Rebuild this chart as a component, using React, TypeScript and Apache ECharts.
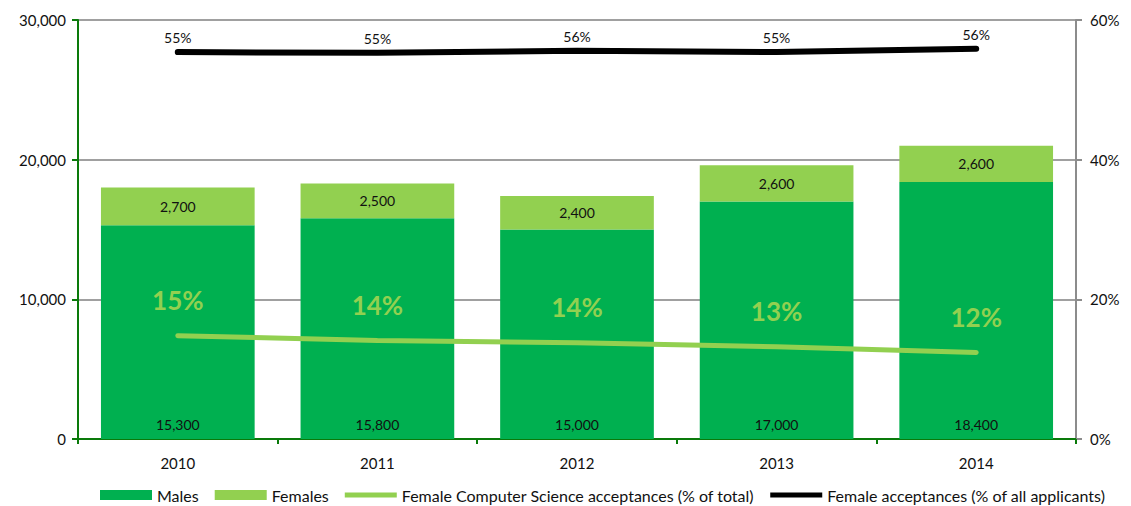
import React, { useEffect, useRef } from "react";
import * as echarts from "echarts";

const years = ["2010", "2011", "2012", "2013", "2014"];
const males = [15300, 15800, 15000, 17000, 18400];
const females = [2700, 2500, 2400, 2600, 2600];
const csShare = [14.8, 14.1, 13.8, 13.2, 12.4];
const allShare = [55.4, 55.3, 55.6, 55.4, 55.9];

const FONT = "Lato, 'Open Sans', sans-serif";
const DARK = "#00b050";
const LIGHT = "#92d050";
const AXIS_GREEN = "#0a7a0a";

export default function App() {
  const ref = useRef<HTMLDivElement>(null);
  useEffect(() => {
    document.body.style.margin = "0";
    const chart = echarts.init(ref.current!, null, { renderer: "svg" });
    const lineIcon = "path://M0,0 L52,0 L52,5 L0,5 Z";
    chart.setOption({
      animation: false,
      textStyle: { fontFamily: FONT },
      grid: {
        left: 78,
        right: 55,
        top: 20,
        bottom: 67,
        show: true,
        borderColor: AXIS_GREEN,
        borderWidth: 2,
        backgroundColor: "transparent",
      },
      legend: {
        left: 100,
        bottom: 3,
        padding: 0,
        itemWidth: 52,
        itemHeight: 10,
        itemGap: 16,
        textStyle: { fontFamily: FONT, fontSize: 16, color: "#111" },
        data: [
          { name: "Males", icon: "rect" },
          { name: "Females", icon: "rect" },
          {
            name: "Female Computer Science acceptances (% of total)",
            icon: lineIcon,
            itemStyle: { color: LIGHT },
          },
          {
            name: "Female acceptances (% of all applicants)",
            icon: lineIcon,
            itemStyle: { color: "#000" },
          },
        ],
      },
      xAxis: {
        type: "category",
        data: years,
        axisLine: { lineStyle: { color: AXIS_GREEN, width: 2 } },
        axisTick: { show: true, length: 5, lineStyle: { color: AXIS_GREEN, width: 2 } },
        axisLabel: { fontSize: 15, color: "#111", margin: 16, fontFamily: FONT },
      },
      yAxis: [
        {
          type: "value",
          min: 0,
          max: 30000,
          interval: 10000,
          axisLine: { show: true, lineStyle: { color: AXIS_GREEN, width: 2 } },
          axisTick: { show: true, length: 6, lineStyle: { color: AXIS_GREEN, width: 2 } },
          axisLabel: {
            fontSize: 15,
            color: "#111",
            margin: 12,
            fontFamily: FONT,
            formatter: (v: number) => v.toLocaleString("en-US"),
          },
          splitLine: { show: true, lineStyle: { color: "#a0a0a0", width: 2 } },
        },
        {
          type: "value",
          min: 0,
          max: 60,
          interval: 20,
          position: "right",
          axisLine: { show: true, lineStyle: { color: "#8c8c8c", width: 2 } },
          axisTick: { show: true, length: 6, lineStyle: { color: "#8c8c8c", width: 2 } },
          axisLabel: {
            fontSize: 15,
            color: "#111",
            margin: 14,
            fontFamily: FONT,
            formatter: (v: number) => v + "%",
          },
          splitLine: { show: false },
        },
      ],
      series: [
        {
          name: "Males",
          type: "bar",
          stack: "total",
          data: males,
          barWidth: "77%",
          itemStyle: { color: DARK },
          label: {
            show: true,
            position: "insideBottom",
            distance: 8,
            fontSize: 14,
            color: "#111",
            fontFamily: FONT,
            formatter: (p: any) => p.value.toLocaleString("en-US"),
          },
        },
        {
          name: "Females",
          type: "bar",
          stack: "total",
          data: females,
          itemStyle: { color: LIGHT },
          label: {
            show: true,
            position: "inside",
            fontSize: 14,
            color: "#111",
            fontFamily: FONT,
            formatter: (p: any) => p.value.toLocaleString("en-US"),
          },
        },
        {
          name: "Female Computer Science acceptances (% of total)",
          type: "line",
          yAxisIndex: 1,
          data: csShare,
          symbol: "circle",
          symbolSize: 1,
          showSymbol: true,
          smooth: false,
          lineStyle: { color: LIGHT, width: 5, cap: "round" },
          itemStyle: { color: LIGHT },
          label: {
            show: true,
            position: "top",
            distance: 22,
            fontSize: 26,
            fontWeight: "bold",
            color: LIGHT,
            fontFamily: FONT,
            formatter: (p: any) => Math.round(p.value) + "%",
          },
          z: 5,
        },
        {
          name: "Female acceptances (% of all applicants)",
          type: "line",
          yAxisIndex: 1,
          data: allShare,
          symbol: "circle",
          symbolSize: 1,
          showSymbol: true,
          lineStyle: { color: "#000", width: 6, cap: "round" },
          itemStyle: { color: "#000" },
          label: {
            show: true,
            position: "top",
            distance: 7,
            fontSize: 14,
            color: "#111",
            fontFamily: FONT,
            formatter: (p: any) => Math.round(p.value) + "%",
          },
          z: 5,
        },
      ],
    });
    return () => chart.dispose();
  }, []);
  return <div ref={ref} style={{ width: 1131, height: 506 }} />;
}
